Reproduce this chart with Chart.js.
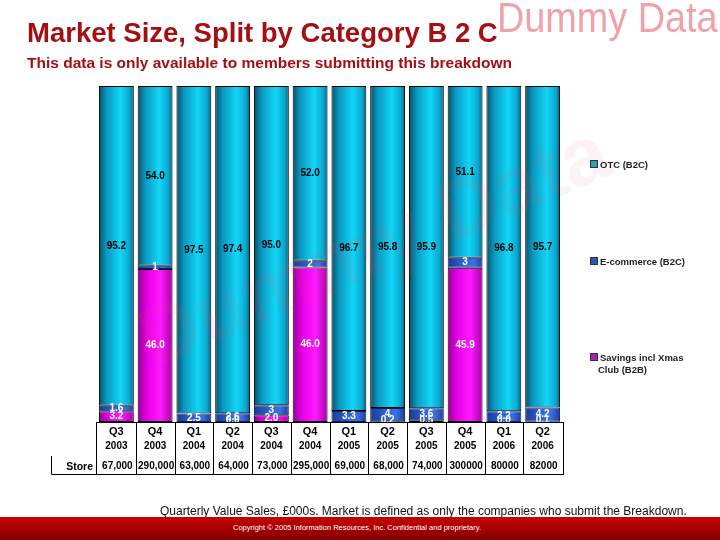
<!DOCTYPE html>
<html>
<head>
<meta charset="utf-8">
<script src="https://cdn.jsdelivr.net/npm/chart.js@4.4.0/dist/chart.umd.min.js"></script>
<style>
  body { margin: 0; background: #fff; }
  #wrap { position: relative; width: 720px; height: 540px; overflow: hidden; font-family: "Liberation Sans", Arial, sans-serif; }
  #chart { position: absolute; left: 0; top: 0; }
  .abs { position: absolute; white-space: nowrap; }
  #title { left: 27px; top: 17px; font-size: 27.5px; font-weight: bold; color: #a50f14; }
  #sub { left: 27px; top: 54px; font-size: 15.5px; font-weight: bold; color: #a50f14; }
  #dummy { left: 497px; top: -6px; font-size: 42px; color: #f0a2aa; transform: scaleX(0.9); transform-origin: left top; }
  .leg { font-size: 9.5px; font-weight: bold; color: #222; line-height: 12px; }
  .leg i { display: inline-block; width: 6px; height: 6px; border: 1px solid #333; margin-right: 2px; vertical-align: 0px; }
  #note { left: 160px; top: 504px; font-size: 12px; color: #111; }
  #band { left: 0; top: 517px; width: 720px; height: 23px; background: linear-gradient(#c80000, #a00000 60%, #800000); }
  #copy { left: 233px; top: 523px; font-size: 7.5px; color: #fff; }
</style>
</head>
<body>
<div id="wrap">
  <canvas id="chart" width="720" height="540"></canvas>
  <div class="abs" id="dummy">Dummy Data</div>
  <div class="abs" id="title">Market Size, Split by Category B 2 C</div>
  <div class="abs" id="sub">This data is only available to members submitting this breakdown</div>
  <div class="abs leg" style="left:590px;top:159px"><i style="background:#1ea6bb"></i>OTC (B2C)</div>
  <div class="abs leg" style="left:590px;top:256px"><i style="background:#2a52b8"></i>E-commerce (B2C)</div>
  <div class="abs leg" style="left:590px;top:352px"><i style="background:#b01eb0"></i>Savings incl Xmas<br>&nbsp;&nbsp;&nbsp;Club (B2B)</div>
  <div class="abs" id="note">Quarterly Value Sales, £000s. Market is defined as only the companies who submit the Breakdown.</div>
  <div class="abs" id="band"></div>
  <div class="abs" id="copy">Copyright © 2005 Information Resources, Inc. Confidential and proprietary.</div>
</div>
<script>
// data (percent share per quarter)
const quarters = ["Q3", "Q4", "Q1", "Q2", "Q3", "Q4", "Q1", "Q2", "Q3", "Q4", "Q1", "Q2"]
const years = ["2003", "2003", "2004", "2004", "2004", "2004", "2005", "2005", "2005", "2005", "2006", "2006"]
const storeValues = ["67,000", "290,000", "63,000", "64,000", "73,000", "295,000", "69,000", "68,000", "74,000", "300000", "80000", "82000"]
const savings = [3.2, 46.0, null, 0.0, 2.0, 46.0, null, 0.2, 0.5, 45.9, 0.0, 0.1]
const ecommerce = [1.6, 1, 2.5, 2.6, 3, 2, 3.3, 4, 3.6, 3, 3.2, 4.2]
const otc = [95.2, 54.0, 97.5, 97.4, 95.0, 52.0, 96.7, 95.8, 95.9, 51.1, 96.8, 95.7]

const rawSets = [savings, ecommerce, otc]
const totals = quarters.map((q, i) => rawSets.reduce((s, arr) => s + (arr[i] || 0), 0))
const share = (arr) => arr.map((v, i) => (v == null ? null : (v / totals[i]) * 100))

const CAT_PCT = 0.9

function gradient(stops) {
  return (c) => {
    const chart = c.chart
    const x = chart.scales.x
    if (c.type !== "data" || !x) return stops[1][1]
    const cx = x.getPixelForValue(c.dataIndex)
    const w = (x.width / quarters.length) * CAT_PCT
    if (!isFinite(cx) || !isFinite(w) || w <= 0) return stops[1][1]
    const g = chart.ctx.createLinearGradient(cx - w / 2, 0, cx + w / 2, 0)
    stops.forEach(([o, col]) => g.addColorStop(o, col))
    return g
  }
}

const otcFill = gradient([[0, "#06506a"], [0.22, "#0a98c0"], [0.62, "#12d6f6"], [0.88, "#0aa6cf"], [1, "#075c7c"]])
const ecomFill = gradient([[0, "#1a3a94"], [0.5, "#3266d8"], [0.75, "#3a70e2"], [1, "#1c3c98"]])
const savFill = gradient([[0, "#9a009a"], [0.3, "#ea00ea"], [0.65, "#ff1aff"], [1, "#a800a8"]])

// value labels in the middle of every segment
const segmentLabels = {
  id: "segmentLabels",
  afterDatasetsDraw(chart) {
    const ctx = chart.ctx
    ctx.save()
    // faint diagonal watermark
    ctx.translate(375, 250)
    ctx.rotate(-0.40)
    ctx.font = "bold 82px 'Liberation Sans', Arial"
    ctx.fillStyle = "rgba(235, 90, 100, 0.07)"
    ctx.textAlign = "center"
    ctx.textBaseline = "middle"
    ctx.fillText("Dummy Data", 0, 0)
    ctx.restore()

    ctx.save()
    ctx.font = "bold 10px 'Liberation Sans', Arial"
    ctx.textAlign = "center"
    ctx.textBaseline = "middle"
    rawSets.forEach((arr, d) => {
      chart.getDatasetMeta(d).data.forEach((bar, i) => {
        const v = arr[i]
        if (v == null) return
        const txt = d === 1 ? String(v) : v.toFixed(1)
        let y = (bar.y + bar.base) / 2
        if (d === 0 && v < 1) y = bar.base - 2
        ctx.fillStyle = d === 2 ? "#000" : "#fff"
        ctx.fillText(txt, bar.x, y)
      })
    })
    ctx.restore()
  },
}

// data table under the bars
const dataTable = {
  id: "dataTable",
  afterDraw(chart) {
    const ctx = chart.ctx
    const area = chart.chartArea
    const pitch = area.width / quarters.length
    const top = area.bottom
    const bottom = top + 52
    ctx.save()
    ctx.strokeStyle = "#000"
    ctx.lineWidth = 1
    ctx.strokeRect(area.left - 0.5, top + 0.5, area.width + 2, bottom - top)
    for (let k = 1; k < quarters.length; k++) {
      const x = Math.round(area.left + k * pitch) + 0.5
      ctx.beginPath()
      ctx.moveTo(x, top)
      ctx.lineTo(x, bottom)
      ctx.stroke()
    }
    // store bracket
    ctx.beginPath()
    ctx.moveTo(51.5, 456)
    ctx.lineTo(51.5, bottom + 0.5)
    ctx.lineTo(area.left, bottom + 0.5)
    ctx.stroke()

    ctx.fillStyle = "#000"
    ctx.textAlign = "center"
    ctx.textBaseline = "middle"
    quarters.forEach((q, i) => {
      const cx = area.left + (i + 0.5) * pitch
      ctx.font = "bold 11px 'Liberation Sans', Arial"
      ctx.fillText(q, cx, top + 10)
      ctx.font = "bold 10px 'Liberation Sans', Arial"
      ctx.fillText(years[i], cx, top + 24)
      ctx.fillText(storeValues[i], cx + 1, top + 44)
    })
    ctx.textAlign = "right"
    ctx.font = "bold 10.5px 'Liberation Sans', Arial"
    ctx.fillText("Store", area.left - 4, top + 45)
    ctx.restore()
  },
}

const common = { borderColor: "#000", borderWidth: 1, borderSkipped: false, categoryPercentage: CAT_PCT, barPercentage: 1 }

new Chart(document.getElementById("chart"), {
  type: "bar",
  data: {
    labels: quarters.map((q, i) => q + " " + years[i]),
    datasets: [
      { label: "Savings incl Xmas Club (B2B)", data: share(savings), backgroundColor: savFill, ...common },
      { label: "E-commerce (B2C)", data: share(ecommerce), backgroundColor: ecomFill, ...common, borderColor: "#10205a" },
      { label: "OTC (B2C)", data: share(otc), backgroundColor: otcFill, ...common },
    ],
  },
  options: {
    responsive: false,
    animation: false,
    layout: { padding: { left: 97, top: 86, right: 158, bottom: 118 } },
    plugins: { legend: { display: false }, tooltip: { enabled: false } },
    scales: {
      x: { stacked: true, display: false },
      y: { stacked: true, display: false, min: 0, max: 100 },
    },
  },
  plugins: [segmentLabels, dataTable],
})
</script>
</body>
</html>
